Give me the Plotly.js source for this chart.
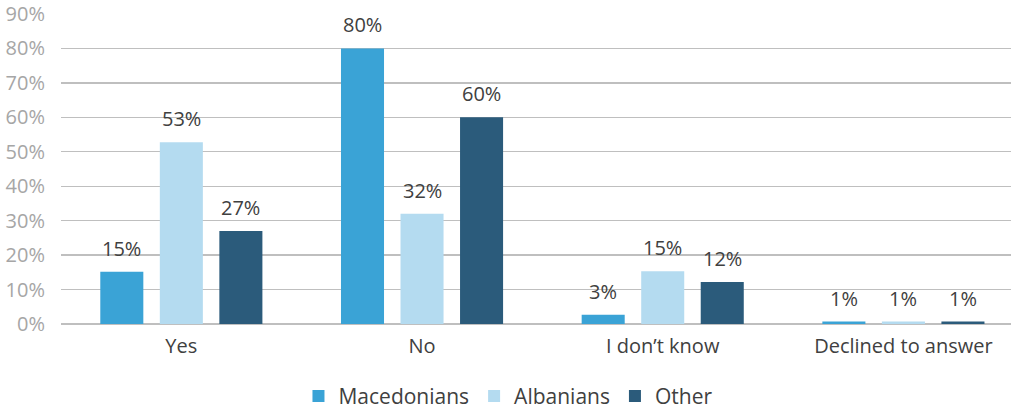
<!DOCTYPE html>
<html>
<head>
<meta charset="utf-8">
<script src="https://cdn.plot.ly/plotly-3.0.1.min.js"></script>
<style>html,body{margin:0;padding:0;background:#fff;}#chart{width:1012px;height:411px;}</style>
</head>
<body>
<div id="chart"></div>
<script>
const categories = ["Yes", "No", "I don\u2019t know", "Declined to answer"];
const seriesNames = ["Macedonians", "Albanians", "Other"];
const macedonians = [0.152, 0.80, 0.027, 0.007];
const albanians = [0.528, 0.32, 0.153, 0.007];
const other = [0.27, 0.60, 0.122, 0.007];
const labelsMacedonians = ["15%", "80%", "3%", "1%"];
const labelsAlbanians = ["53%", "32%", "15%", "1%"];
const labelsOther = ["27%", "60%", "12%", "1%"];
const yTickVals = [0, 0.1, 0.2, 0.3, 0.4, 0.5, 0.6, 0.7, 0.8, 0.9];
const yTickText = ["0%", "10%", "20%", "30%", "40%", "50%", "60%", "70%", "80%", "90%"];
const colors = ["#3AA3D6", "#B4DBF0", "#2B5B7B"];

const values = [macedonians, albanians, other];
const labels = [labelsMacedonians, labelsAlbanians, labelsOther];
const FONT = "'Open Sans', sans-serif";
const bargap = 0.258;
const slot = (1 - bargap) / values.length;

const traces = values.map((v, i) => ({
  type: "bar",
  name: seriesNames[i],
  x: categories,
  y: v,
  marker: {color: colors[i]},
  hoverinfo: "skip"
}));

const annotations = [];
values.forEach((v, i) => {
  v.forEach((val, j) => {
    annotations.push({
      x: j + (i - (values.length - 1) / 2) * slot,
      y: val,
      xref: "x", yref: "y",
      text: labels[i][j],
      showarrow: false,
      yanchor: "bottom",
      yshift: 8,
      font: {family: FONT, size: 20, color: "#404040"}
    });
  });
});

const layout = {
  width: 1012, height: 411,
  margin: {l: 61, r: 1, t: 14, b: 87, autoexpand: false},
  paper_bgcolor: "#fff", plot_bgcolor: "#fff",
  barmode: "group",
  bargap: bargap,
  bargroupgap: 0.277,
  showlegend: true,
  legend: {
    orientation: "h", x: 0.4705, xanchor: "center", y: -0.2999, yanchor: "bottom",
    font: {family: FONT, size: 21, color: "#404040"},
    traceorder: "normal"
  },
  xaxis: {
    type: "category",
    range: [-0.5, 3.447],
    showgrid: false, zeroline: false, showline: false,
    ticks: "", ticklabelstandoff: 8,
    tickfont: {family: FONT, size: 20, color: "#404040"}
  },
  yaxis: {
    range: [0, 0.9],
    tickvals: yTickVals, ticktext: yTickText,
    showgrid: true, gridcolor: "#BFBFBF", gridwidth: 1.3,
    zeroline: true, zerolinecolor: "#BFBFBF", zerolinewidth: 1.3,
    showline: false, ticks: "", ticklabelstandoff: 15,
    tickfont: {family: FONT, size: 20, color: "#A6A6A6"}
  },
  annotations: annotations
};

Plotly.newPlot("chart", traces, layout, {displayModeBar: false, staticPlot: true});
</script>
</body>
</html>
